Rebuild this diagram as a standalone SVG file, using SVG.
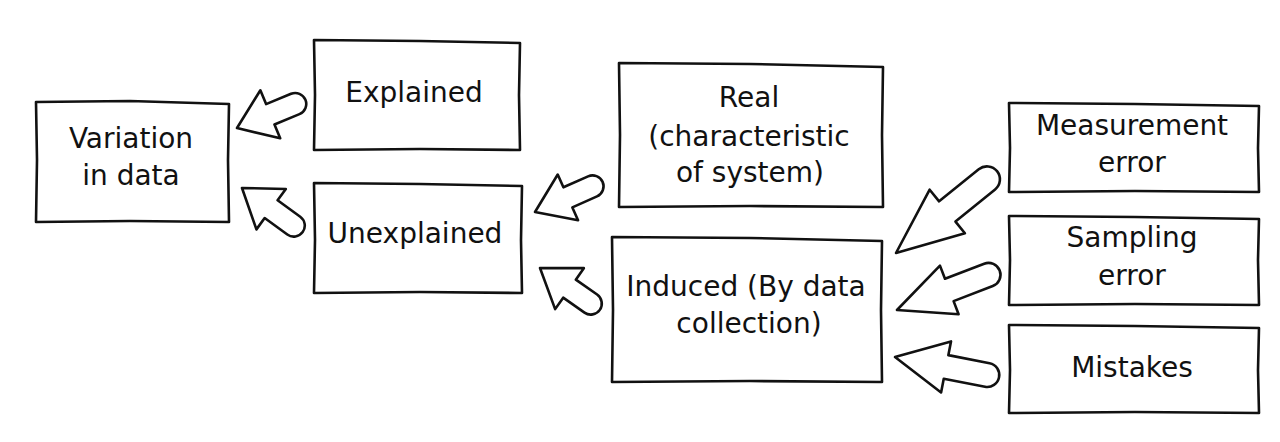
<svg xmlns="http://www.w3.org/2000/svg" width="1280" height="442" viewBox="0 0 1280 442">
<style>
.box{fill:#fff;stroke:#111;stroke-width:2.6;stroke-linejoin:round}
.arr{fill:#fff;stroke:#111;stroke-width:2.6;stroke-linejoin:round}
.t{font-family:"DejaVu Sans",sans-serif;font-size:28px;fill:#111;text-anchor:middle}
</style>
<rect width="1280" height="442" fill="#fff"/>
<g id="connectors">
<path class="arr" transform="translate(237,128) rotate(-22.4)" d="M0,0 L36,-26 L36,-11 L63,-11 A11,11 0 0 1 63,11 L36,11 L36,26 Z"/>
<path class="arr" transform="translate(242,188) rotate(36)" d="M0,0 L36,-25 L36,-11 L64,-11 A11,11 0 0 1 64,11 L36,11 L36,25 Z"/>
<path class="arr" transform="translate(535,212) rotate(-24)" d="M0,0 L36,-25 L36,-11 L63,-11 A11,11 0 0 1 63,11 L36,11 L36,25 Z"/>
<path class="arr" transform="translate(540,268) rotate(35)" d="M0,0 L36,-25 L36,-11 L62,-11 A11,11 0 0 1 62,11 L36,11 L36,25 Z"/>
<path class="arr" transform="translate(896,253) rotate(-39)" d="M0,0 L66,-28 L66,-13 L117,-13 A13,13 0 0 1 117,13 L66,13 L66,28 Z"/>
<path class="arr" transform="translate(897,310) rotate(-21)" d="M0,0 L56,-26 L56,-12 L98,-12 A12,12 0 0 1 98,12 L56,12 L56,26 Z"/>
<path class="arr" transform="translate(895,357) rotate(11)" d="M0,0 L52,-26 L52,-12 L94,-12 A12,12 0 0 1 94,12 L52,12 L52,26 Z"/>
</g>
<g id="variation">
<path class="box" d="M36,102 L130,101 L229,104 L228,160 L229,222 L130,221 L36,222 L37,160 Z"/>
<text class="t" x="131" y="148">Variation</text>
<text class="t" x="131" y="185">in data</text>
</g>
<g id="explained">
<path class="box" d="M314,40 L420,41 L520,43 L519,95 L520,150 L420,149 L314,150 L315,95 Z"/>
<text class="t" x="414" y="102">Explained</text>
</g>
<g id="unexplained">
<path class="box" d="M314,183 L420,184 L522,186 L521,240 L522,293 L420,292 L314,293 L315,240 Z"/>
<text class="t" x="415" y="243">Unexplained</text>
</g>
<g id="real">
<path class="box" d="M619,63 L750,64 L883,67 L882,135 L883,207 L750,206 L619,207 L620,135 Z"/>
<text class="t" x="749" y="107">Real</text>
<text class="t" x="749" y="146">(characteristic</text>
<text class="t" x="750" y="182">of system)</text>
</g>
<g id="induced">
<path class="box" d="M612,237 L750,238 L882,241 L881,310 L882,382 L750,381 L612,382 L613,310 Z"/>
<text class="t" x="746" y="296">Induced (By data</text>
<text class="t" x="749" y="333">collection)</text>
</g>
<g id="measurement">
<path class="box" d="M1009,103 L1135,104 L1259,106 L1258,148 L1259,192 L1135,191 L1009,192 L1010,148 Z"/>
<text class="t" x="1132" y="135">Measurement</text>
<text class="t" x="1132" y="172">error</text>
</g>
<g id="sampling">
<path class="box" d="M1009,216 L1135,217 L1259,219 L1258,260 L1259,305 L1135,304 L1009,305 L1010,260 Z"/>
<text class="t" x="1132" y="247">Sampling</text>
<text class="t" x="1132" y="285">error</text>
</g>
<g id="mistakes">
<path class="box" d="M1009,325 L1135,326 L1259,328 L1258,370 L1259,413 L1135,412 L1009,413 L1010,370 Z"/>
<text class="t" x="1132" y="377">Mistakes</text>
</g>
</svg>
